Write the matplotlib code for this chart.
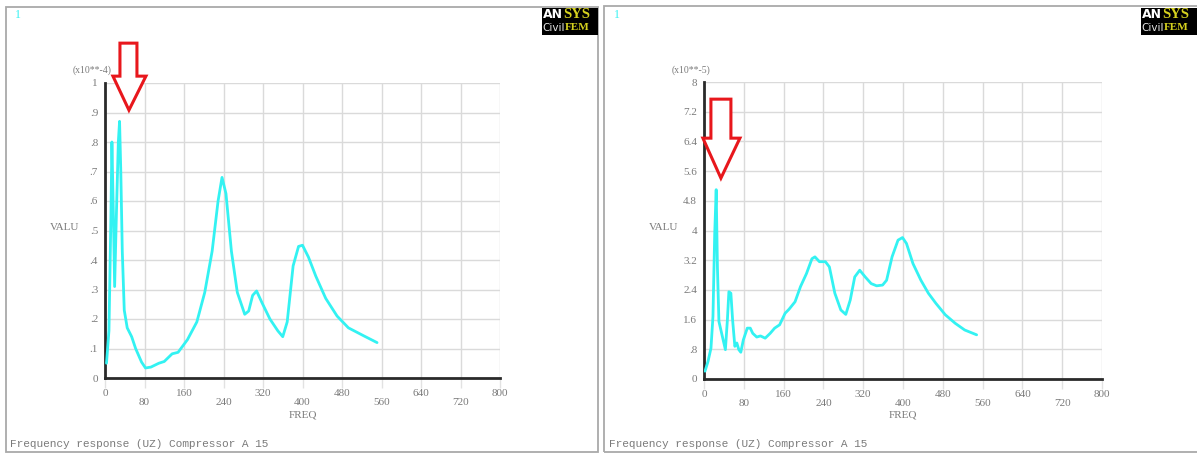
import matplotlib
matplotlib.use("Agg")
import matplotlib.pyplot as plt
from matplotlib.patches import Rectangle, Polygon
from matplotlib import transforms

# ---- data -----------------------------------------------------------------
# Panel A: frequency response UZ, values in units of 1e-4
freq_a = [3, 8, 12, 14, 17, 19.5, 23, 27, 29.5, 32, 35, 39, 45, 54, 62, 74, 82,
          93, 109, 120, 136, 148, 167, 186, 202, 217, 229, 237, 245, 256, 268,
          283, 291, 299, 307, 318, 334, 350, 360, 369, 381, 392, 400, 412, 427,
          447, 470, 493, 524, 551]
valu_a = [0.05, 0.16, 0.55, 0.80, 0.55, 0.31, 0.55, 0.80, 0.87, 0.70, 0.43, 0.23,
          0.17, 0.14, 0.10, 0.054, 0.034, 0.037, 0.05, 0.056, 0.082, 0.087, 0.13,
          0.19, 0.29, 0.43, 0.60, 0.68, 0.625, 0.43, 0.29, 0.216, 0.227, 0.28,
          0.295, 0.255, 0.20, 0.16, 0.14, 0.19, 0.38, 0.446, 0.45, 0.41, 0.345,
          0.27, 0.21, 0.17, 0.143, 0.12]

# Panel B: frequency response UZ, values in units of 1e-5
freq_b = [2, 8, 14, 18, 21.5, 24.5, 27, 30, 37, 43, 47, 50, 54, 57.5, 62, 66, 70,
          74, 79, 87, 93, 98, 106, 113.5, 123, 133, 142, 152, 163, 171, 183, 194,
          206, 217, 223, 232, 244, 252, 263, 275, 285, 294, 303, 313, 324, 336,
          347, 359, 367, 378, 390, 399, 407, 420, 436, 451, 466, 485, 505, 524,
          548]
valu_b = [0.21, 0.47, 0.83, 1.68, 3.9, 5.1, 3.0, 1.55, 1.14, 0.79, 1.59, 2.35,
          2.31, 1.59, 0.88, 0.97, 0.79, 0.72, 1.05, 1.37, 1.37, 1.23, 1.13, 1.16,
          1.10, 1.23, 1.37, 1.46, 1.77, 1.88, 2.08, 2.49, 2.84, 3.24, 3.29, 3.16,
          3.16, 3.02, 2.31, 1.86, 1.74, 2.13, 2.75, 2.93, 2.75, 2.57, 2.51, 2.53,
          2.66, 3.29, 3.74, 3.81, 3.65, 3.11, 2.66, 2.31, 2.04, 1.73, 1.50, 1.32,
          1.19]

x_major = [0, 160, 320, 480, 640, 800]
x_minor = [80, 240, 400, 560, 720]

y_ticks_a = [0, 0.1, 0.2, 0.3, 0.4, 0.5, 0.6, 0.7, 0.8, 0.9, 1.0]
y_labels_a = ["0", ".1", ".2", ".3", ".4", ".5", ".6", ".7", ".8", ".9", "1"]
y_ticks_b = [0, 0.8, 1.6, 2.4, 3.2, 4.0, 4.8, 5.6, 6.4, 7.2, 8.0]
y_labels_b = ["0", ".8", "1.6", "2.4", "3.2", "4", "4.8", "5.6", "6.4", "7.2", "8"]

title_text = "Frequency response (UZ) Compressor A 15"

# ---- figure ---------------------------------------------------------------
W, H = 1197, 455
fig = plt.figure(figsize=(W / 100, H / 100), dpi=100)
fig.patch.set_facecolor("white")

LABEL_GRAY = "#7a7a7a"
CYAN = "#33f2f2"
RED = "#e8171c"
YELLOW = "#d6d21e"
SERIF = ["Liberation Serif", "DejaVu Serif"]
MONO = ["Liberation Mono", "DejaVu Sans Mono"]


def fx(x):
    return x / W


def fy(y):
    return 1 - y / H


def panel(x0, frame, axbox, freq, valu, yt, yl, ymax, mult, arrow_tip, arrow_shape):
    # outer frame
    fl, ft, fr, fb = frame
    fig.add_artist(Rectangle((fx(fl), fy(fb)), fx(fr - fl), (fb - ft) / H,
                             transform=fig.transFigure, fill=False,
                             edgecolor="#a9a9a9", lw=1.3))
    # window number
    fig.text(fx(x0 + 9), fy(15), "1", color=CYAN, fontsize=8.5, family=SERIF,
             ha="left", va="center")
    # logo block
    lx = x0 + 536
    fig.add_artist(Rectangle((fx(lx), fy(35)), fx(56), 27 / H,
                             transform=fig.transFigure, color="black", lw=0))
    fig.text(fx(lx + 21), fy(15), "AN", color="white", fontsize=9,
             weight="bold", family="DejaVu Sans", ha="right", va="center")
    fig.text(fx(lx + 21), fy(15), "SYS", color=YELLOW, fontsize=10.5,
             weight="bold", family=SERIF, ha="left", va="center")
    fig.text(fx(lx + 23), fy(28), "Civil", color="#e6e6e6", fontsize=7.5,
             family="DejaVu Sans", ha="right", va="center")
    fig.text(fx(lx + 23), fy(28), "FEM", color=YELLOW, fontsize=8,
             weight="bold", family=SERIF, ha="left", va="center")

    # axes
    al, at, ar, ab = axbox
    ax = fig.add_axes([fx(al), fy(ab), fx(ar - al), (ab - at) / H])
    ax.set_xlim(0, 800)
    ax.set_ylim(0, ymax)
    ax.plot(freq, valu, color=CYAN, lw=2.0, solid_joinstyle="round",
            solid_capstyle="round", zorder=3)
    ax.set_xticks(x_major)
    ax.set_xticks(x_minor, minor=True)
    ax.set_xticklabels([str(v) for v in x_major])
    ax.set_xticklabels([str(v) for v in x_minor], minor=True)
    ax.set_yticks(yt)
    ax.set_yticklabels(yl)
    ax.grid(True, which="both", color="#dadada", lw=1.0)
    ax.tick_params(axis="x", which="both", direction="out", length=7,
                   color="#e2e2e2", width=1.0, labelsize=8, labelcolor=LABEL_GRAY)
    ax.tick_params(axis="x", which="major", pad=1)
    ax.tick_params(axis="x", which="minor", pad=7.5)
    ax.tick_params(axis="y", length=0, pad=5, labelsize=8, labelcolor=LABEL_GRAY)
    for lab in ax.get_xticklabels(which="both") + ax.get_yticklabels():
        lab.set_family(SERIF)
    for s in ("top", "right"):
        ax.spines[s].set_visible(False)
    for s in ("left", "bottom"):
        ax.spines[s].set_color("#2a2a2a")
        ax.spines[s].set_linewidth(2.0)
    ax.set_facecolor("white")

    # axis titles
    fig.text(fx(x0 + 59), fy(227), "VALU", color=LABEL_GRAY, fontsize=8,
             family=SERIF, ha="center", va="center")
    fig.text(fx((al + ar) / 2), fy(415), "FREQ", color=LABEL_GRAY, fontsize=8,
             family=SERIF, ha="center", va="center")
    fig.text(fx(al - 13), fy(70), mult, color=LABEL_GRAY, fontsize=7,
             family=SERIF, ha="center", va="center")
    # bottom caption
    fig.text(fx(x0 + 4), fy(444), title_text, color=LABEL_GRAY, fontsize=8,
             family=MONO, ha="left", va="center")

    # hollow arrow pointing at the first resonance
    tx, ty = arrow_tip
    trans = fig.dpi_scale_trans + transforms.ScaledTranslation(tx, ty, ax.transData)
    pts = [(px / 100, py / 100) for px, py in arrow_shape]
    ax.add_patch(Polygon(pts, closed=True, fill=True, facecolor="white",
                         edgecolor=RED, lw=2.2, transform=trans, clip_on=False,
                         zorder=5, joinstyle="miter"))
    return ax


arrow_a = [(0, 0), (-16, 34), (-9, 34), (-9, 67), (8, 67), (8, 34), (17, 34)]
arrow_b = [(0, 0), (-18, 40), (-10, 40), (-10, 79), (10, 79), (10, 40), (19, 40)]

panel(6, (6, 7, 598, 452), (105, 83, 500, 378), freq_a, valu_a,
      y_ticks_a, y_labels_a, 1.0, "(x10**-4)", (48.5, 0.908), arrow_a)
panel(605, (604, 6, 1199, 452), (704, 82, 1102, 379), freq_b, valu_b,
      y_ticks_b, y_labels_b, 8.0, "(x10**-5)", (34, 5.41), arrow_b)

fig.savefig("out.png", dpi=100, facecolor="white")
